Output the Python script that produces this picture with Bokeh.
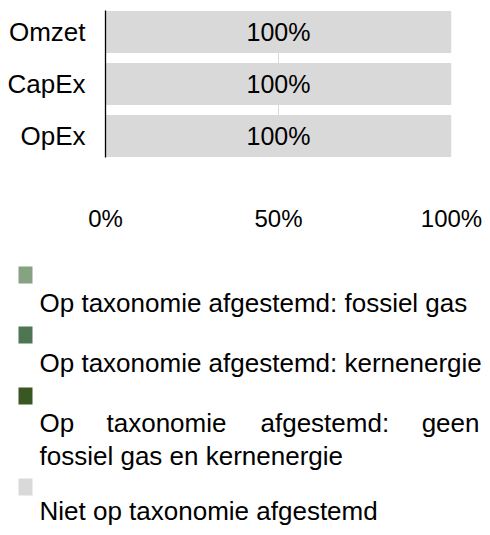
import numpy as np
from bokeh.plotting import figure
from bokeh.layouts import column
from bokeh.models import (FactorRange, Range1d, FixedTicker, PrintfTickFormatter,
                          ColumnDataSource)
from bokeh.core.properties import value
from bokeh.embed import file_html
from bokeh.resources import INLINE

# ---- data ----
categories = ["Omzet", "CapEx", "OpEx"]
series_names = [
    "Op taxonomie afgestemd: fossiel gas",
    "Op taxonomie afgestemd: kernenergie",
    "Op taxonomie afgestemd: geen fossiel gas en kernenergie",
    "Niet op taxonomie afgestemd",
]
fossiel_gas = [0, 0, 0]
kernenergie = [0, 0, 0]
geen_fossiel_kern = [0, 0, 0]
niet_afgestemd = [100, 100, 100]
x_ticks = [0, 50, 100]

colors = ["#87a183", "#4e7653", "#385723", "#d9d9d9"]
FONT = "Liberation Sans"

series_values = [fossiel_gas, kernenergie, geen_fossiel_kern, niet_afgestemd]
keys = ["s0", "s1", "s2", "s3"]

data = {"cat": categories}
for k, v in zip(keys, series_values):
    data[k] = v
source = ColumnDataSource(data)

W = 482
H1 = 240
p = figure(
    width=W, height=H1,
    y_range=FactorRange(factors=categories[::-1], range_padding=-0.0865,
                        range_padding_units="absolute"),
    x_range=Range1d(0, 100),
    output_backend="svg", toolbar_location=None,
    min_border_left=105, min_border_right=31, min_border_top=10, min_border_bottom=H1 - 157,
)
p.frame_align = False
p.hbar_stack(keys, y="cat", height=0.81, fill_color=colors, line_color=None, source=source)

# segment labels
vals = np.array(series_values, dtype=float)  # series x categories
cum = np.cumsum(vals, axis=0)
lab_x, lab_y, lab_t = [], [], []
for si in range(vals.shape[0]):
    for ci, cat in enumerate(categories):
        v = vals[si, ci]
        if v > 0:
            lab_x.append(cum[si, ci] - v / 2)
            lab_y.append(cat)
            lab_t.append(f"{v:.0f}%")
p.text(x=lab_x, y=lab_y, text=lab_t, text_align="center", text_baseline="middle",
       text_font=value(FONT), text_font_size=value("25px"), text_color="black")

p.outline_line_color = None
p.ygrid.visible = False
p.xgrid.ticker = FixedTicker(ticks=x_ticks)
p.xgrid.grid_line_color = "#d9d9d9"
p.xgrid.grid_line_width = 1

p.xaxis.ticker = FixedTicker(ticks=x_ticks)
p.xaxis.formatter = PrintfTickFormatter(format="%d%%")
p.xaxis.axis_line_color = None
p.xaxis.major_tick_line_color = None
p.xaxis.minor_tick_line_color = None
p.xaxis.major_tick_out = 0
p.xaxis.major_label_standoff = 47
p.xaxis.major_label_text_font = FONT
p.xaxis.major_label_text_font_size = "24px"
p.xaxis.major_label_text_color = "black"

p.yaxis.axis_line_color = "black"
p.yaxis.axis_line_width = 1.3
p.yaxis.major_tick_line_color = None
p.yaxis.major_tick_out = 0
p.yaxis.major_label_standoff = 20
p.yaxis.major_label_text_font = FONT
p.yaxis.major_label_text_font_size = "26px"
p.yaxis.major_label_text_color = "black"

# ---- legend panel ----
H2 = 287
lg = figure(width=W, height=H2, x_range=Range1d(0, W), y_range=Range1d(H2, 0),
            output_backend="svg", toolbar_location=None, min_border=0)
lg.frame_align = False
lg.axis.visible = False
lg.grid.visible = False
lg.outline_line_color = None

sq_top = [26, 86, 147, 238]
lg.rect(x=[25] * 4, y=[t + 8.5 for t in sq_top], width=14, height=17,
        fill_color=colors, line_color=None)

tx, ty, tt, ta = [], [], [], []
for name, ym in zip(series_names[:2], [62.5, 122]):
    tx.append(39); ty.append(ym); tt.append(name); ta.append("left")
words = series_names[2].split()
first, rest = words[:4], words[4:]
for w, xw, al in zip(first, [39, 106, 260, 479], ["left", "left", "left", "right"]):
    tx.append(xw); ty.append(182); tt.append(w); ta.append(al)
tx.append(39); ty.append(215); tt.append(" ".join(rest)); ta.append("left")
tx.append(39); ty.append(270.5); tt.append(series_names[3]); ta.append("left")

lsrc = ColumnDataSource(dict(x=tx, y=ty, t=tt, a=ta))
lg.text(x="x", y="y", text="t", text_align="a", text_baseline="middle",
        text_font=value(FONT), text_font_size=value("26px"), text_color="black", source=lsrc)

layout = column(p, lg, spacing=0)
open("out.html", "w").write(file_html(layout, INLINE))
